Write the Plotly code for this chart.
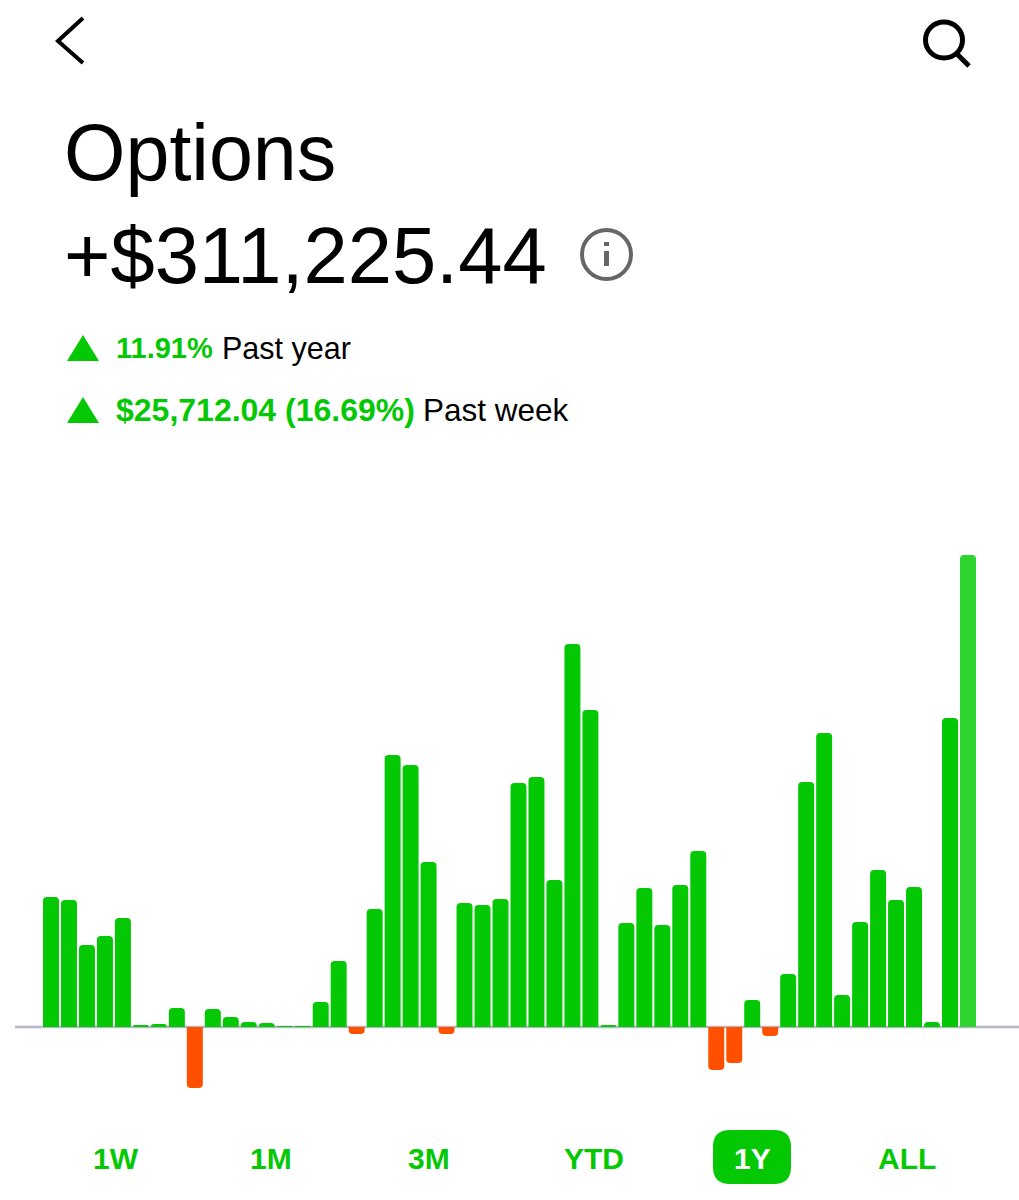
import plotly.graph_objects as go

W = 1019
H = 1200

# weekly bars (no scale shown, so units are arbitrary)
weeks = list(range(1, 53))
values = [130, 127, 82, 91, 109, 2, 3, 19, -61, 18,
          10, 5, 4, 1, 0.5, 25, 66, -7, 118, 272,
          262, 165, -7, 124, 122, 128, 244, 250, 147, 383,
          317, 2, 104, 139, 102, 142, 176, -43, -36, 27,
          -9, 53, 245, 294, 32, 105, 157, 127, 140, 5,
          309, 472]

title_text = "Options"
total_text = "+$311,225.44"
year_change = "11.91%"
year_label = "Past year"
week_change = "$25,712.04 (16.69%)"
week_label = "Past week"
range_labels = ["1W", "1M", "3M", "YTD", "1Y", "ALL"]
range_centers = [116, 271, 429, 594, 752, 907]

GREEN = "#04C804"
LIGHT_GREEN = "#2DD42F"
ORANGE = "#FF5000"
AXIS_GREY = "#B5B8C6"
FONT = "Liberation Sans"
STEP = 17.98


def px(x):
    return x / W


def py(y):
    return 1 - y / H


def path(points, close=False):
    s = "M " + " L ".join(f"{px(x):.5f},{py(y):.5f}" for x, y in points)
    return s + (" Z" if close else "")


def pill(x0, x1, y0, y1, r):
    def p(x, y):
        return f"{px(x):.5f},{py(y):.5f}"
    return (f"M {p(x0 + r, y0)} L {p(x1 - r, y0)} Q {p(x1, y0)} {p(x1, y0 + r)} "
            f"L {p(x1, y1 - r)} Q {p(x1, y1)} {p(x1 - r, y1)} "
            f"L {p(x0 + r, y1)} Q {p(x0, y1)} {p(x0, y1 - r)} "
            f"L {p(x0, y0 + r)} Q {p(x0, y0)} {p(x0 + r, y0)} Z")


def label(text, x, y, size, color="#000000", bold=False, anchor="left", white=False):
    fig.add_annotation(
        text=f"<b>{text}</b>" if bold else text,
        x=px(x), y=py(y), xref="paper", yref="paper",
        xanchor=anchor, yanchor="middle", showarrow=False,
        font=dict(family=FONT, size=size, color="#FFFFFF" if white else color),
    )


colors = [ORANGE if v < 0 else GREEN for v in values]
colors[-1] = LIGHT_GREEN

fig = go.Figure(go.Bar(x=weeks, y=values, marker=dict(color=colors, line_width=0, cornerradius=4)))

shapes = [
    # baseline
    dict(type="line", xref="paper", yref="y", x0=px(15), x1=1, y0=0, y1=0,
         line=dict(color=AXIS_GREY, width=2.5), layer="below"),
    # back chevron
    dict(type="path", xref="paper", yref="paper", path=path([(83, 18), (58, 41), (83, 63)]),
         line=dict(color="#000000", width=4)),
    # search icon
    dict(type="circle", xref="paper", yref="paper", x0=px(925.5), x1=px(962.5), y0=py(58), y1=py(22),
         line=dict(color="#000000", width=5)),
    dict(type="path", xref="paper", yref="paper", path=path([(957, 54), (969, 66)]),
         line=dict(color="#000000", width=5)),
    # info icon
    dict(type="circle", xref="paper", yref="paper", x0=px(582), x1=px(631), y0=py(279), y1=py(230),
         line=dict(color="#666666", width=4)),
    dict(type="path", xref="paper", yref="paper", path=path([(606.5, 242), (606.5, 246)]),
         line=dict(color="#666666", width=5)),
    dict(type="path", xref="paper", yref="paper", path=path([(606.5, 251), (606.5, 266)]),
         line=dict(color="#666666", width=5)),
    # up triangles
    dict(type="path", xref="paper", yref="paper", path=path([(67, 361), (99, 361), (83, 335)], True),
         fillcolor=GREEN, line_width=0),
    dict(type="path", xref="paper", yref="paper", path=path([(67, 423), (99, 423), (83, 397)], True),
         fillcolor=GREEN, line_width=0),
    # selected range pill
    dict(type="path", xref="paper", yref="paper", path=pill(713, 791, 1130, 1184, 17),
         fillcolor=GREEN, line_width=0, layer="below"),
]

fig.update_layout(
    width=W, height=H,
    margin=dict(l=0, r=0, t=0, b=0, pad=0),
    paper_bgcolor="#FFFFFF", plot_bgcolor="#FFFFFF",
    showlegend=False, bargap=2 / 18,
    shapes=shapes,
    xaxis=dict(range=[1 - 51 / STEP, 1 + (W - 51) / STEP], visible=False, fixedrange=True),
    yaxis=dict(range=[-173, 1027], visible=False, fixedrange=True),
)

label(title_text, 62, 153, 79)
label(total_text, 62, 255, 79.5)
label(year_change, 114, 348, 29, GREEN, bold=True)
label(year_label, 220, 348, 30.5)
label(week_change, 114, 410, 32, GREEN, bold=True)
label(week_label, 421, 410, 31.5)
for name, center in zip(range_labels, range_centers):
    label(name, center, 1158, 30, GREEN, bold=True, anchor="center", white=name == "1Y")

fig.write_html("out.html", config={"displayModeBar": False},
               post_script="document.body.style.margin='0';document.body.style.overflow='hidden';")
